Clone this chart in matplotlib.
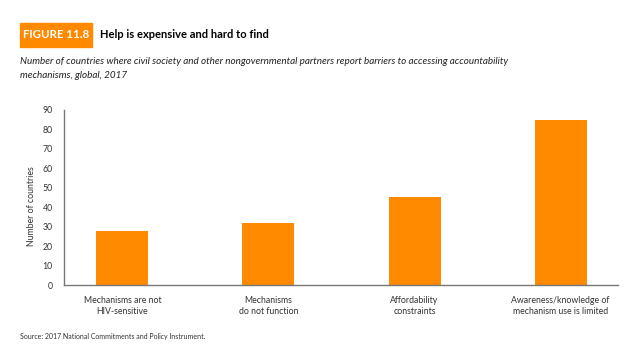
import matplotlib

matplotlib.use('Agg')
import matplotlib.pyplot as plt
from matplotlib.patches import Rectangle

plt.rcParams['font.family'] = ['Lato', 'DejaVu Sans']

categories = ['Mechanisms are not\nHIV-sensitive', 'Mechanisms\ndo not function',
              'Affordability\nconstraints', 'Awareness/knowledge of\nmechanism use is limited']
countries = [28, 32, 45, 85]
yticks = [0, 10, 20, 30, 40, 50, 60, 70, 80, 90]

orange = '#FF8A00'
grey = '#777777'

fig = plt.figure(figsize=(6.4, 3.51), dpi=100)
ax = fig.add_axes([0.1, 0.188, 0.865, 0.499])

x = list(range(len(categories)))
ax.bar(x, countries, width=0.356, color=orange)
ax.set_xlim(-0.40, 3.39)
ax.set_ylim(0, 90)
ax.set_yticks(yticks)
ax.set_xticks(x)
ax.set_xticklabels(categories, fontsize=6.3, color='#333333', linespacing=1.2)
ax.tick_params(axis='both', length=0, labelsize=6.3, colors='#333333')
ax.tick_params(axis='y', pad=8)
ax.tick_params(axis='x', pad=8)
ax.set_ylabel('Number of countries', fontsize=6.3, color='#333333')
ax.yaxis.set_label_coords(-0.05, 0.45)
for s in ['top', 'right']:
    ax.spines[s].set_visible(False)
for s in ['left', 'bottom']:
    ax.spines[s].set_color(grey)
    ax.spines[s].set_linewidth(1.0)

# header
fig.patches.append(Rectangle((20 / 640, 1 - 46.7 / 351), 72 / 640, 24 / 351,
                             transform=fig.transFigure, color=orange, zorder=0))
fig.text(56 / 640, 1 - 35 / 351, 'FIGURE 11.8', color='white', fontsize=8.3,
         fontweight='bold', ha='center', va='center')
fig.text(100 / 640, 1 - 35 / 351, 'Help is expensive and hard to find', color='black',
         fontsize=8.0, fontweight='bold', ha='left', va='center')
fig.text(20 / 640, 1 - 57 / 351,
         'Number of countries where civil society and other nongovernmental partners report barriers to accessing accountability\nmechanisms, global, 2017',
         fontsize=7.1, style='italic', color='#222222', ha='left', va='top', linespacing=1.7)
fig.text(20 / 640, 1 - 336 / 351, 'Source: 2017 National Commitments and Policy Instrument.',
         fontsize=5, color='#333333', ha='left', va='center')

fig.savefig('out.png', dpi=100)
